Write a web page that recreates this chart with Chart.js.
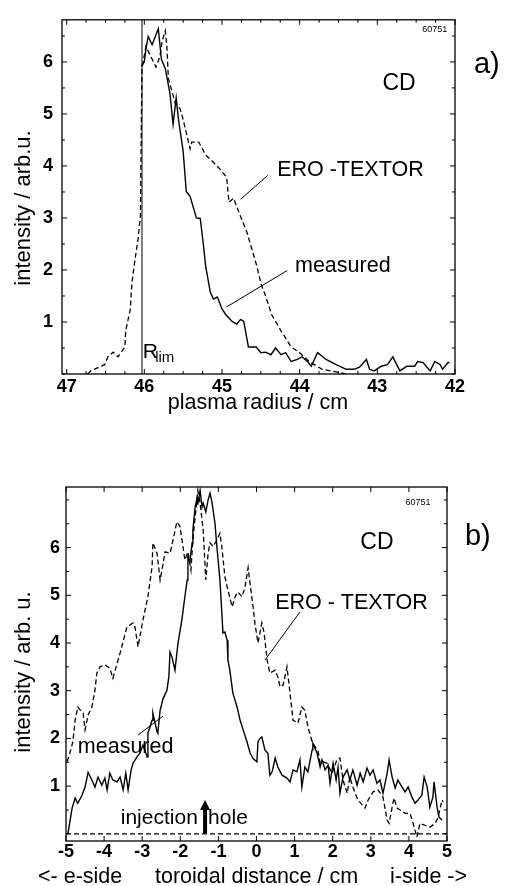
<!DOCTYPE html>
<html>
<head>
<meta charset="utf-8">
<script src="https://cdn.jsdelivr.net/npm/chart.js@4.4.0/dist/chart.umd.min.js"></script>
<style>
  body { margin: 0; background: #fff; }
  canvas { position: absolute; left: 0; }
  #chartA { top: 0; }
  #chartB { top: 430px; }
</style>
</head>
<body>
<canvas id="chartA" width="505" height="430"></canvas>
<canvas id="chartB" width="505" height="456"></canvas>
<script>
// ---- panel a) : plasma radius ----
const aTickX = [47, 46, 45, 44, 43, 42];
const aTickY = [1, 2, 3, 4, 5, 6];

const aMeasX = [46.04, 46.0, 45.98, 45.95, 45.90, 45.82, 45.78, 45.73, 45.67, 45.63, 45.59, 45.56, 45.50, 45.46, 45.41,
  45.33, 45.28, 45.24, 45.21, 45.15, 45.11, 45.06, 45.0, 44.95, 44.87, 44.81, 44.76, 44.72, 44.66, 44.56, 44.50, 44.44,
  44.37, 44.31, 44.24, 44.18, 44.11, 44.03, 43.97, 43.90, 43.85, 43.77, 43.66, 43.53, 43.40, 43.30, 43.23, 43.14, 43.10,
  43.04, 42.95, 42.87, 42.80, 42.71, 42.62, 42.52, 42.48, 42.41, 42.32, 42.26, 42.19, 42.16, 42.09, 42.07];
const aMeas = [5.92, 6.0, 6.24, 6.49, 6.33, 6.64, 6.05, 5.87, 5.39, 4.80, 5.31, 4.89, 4.28, 3.51, 3.41,
  3.0, 2.99, 2.49, 2.07, 1.57, 1.44, 1.48, 1.25, 1.14, 1.01, 0.96, 1.05, 1.01, 0.52, 0.52, 0.41, 0.42,
  0.37, 0.50, 0.37, 0.41, 0.24, 0.28, 0.33, 0.24, 0.15, 0.41, 0.28, 0.18, 0.09, 0.09, 0.13, 0.28, 0.09,
  0.06, 0.15, 0.18, 0.33, 0.06, 0.15, 0.15, 0.24, 0.22, 0.06, 0.24, 0.18, 0.09, 0.22, 0.22];

const aEroX = [46.73, 46.68, 46.51, 46.47, 46.40, 46.34, 46.25, 46.24, 46.18, 46.16, 46.12, 46.08, 46.05, 46.04, 46.03,
  45.98, 45.85, 45.80, 45.77, 45.73, 45.71, 45.69, 45.60, 45.54, 45.50, 45.41, 45.39, 45.30, 45.21, 45.13, 45.02, 44.94,
  44.91, 44.85, 44.78, 44.68, 44.56, 44.49, 44.44, 44.36, 44.24, 44.11, 44.0, 43.88, 43.71, 43.53, 43.40];
const aEro = [0, 0.07, 0.18, 0.33, 0.42, 0.33, 0.52, 0.83, 1.25, 1.75, 2.2, 2.6, 3.04, 4.58, 5.87,
  6.3, 5.9, 6.1, 6.4, 6.6, 6.3, 5.68, 5.2, 5.1, 4.89, 4.33, 4.46, 4.46, 4.21, 4.1, 3.93, 3.78,
  3.30, 3.38, 3.1, 2.73, 2.12, 1.7, 1.51, 1.14, 0.83, 0.52, 0.41, 0.24, 0.09, 0.04, 0];

const rLimX = [46.03, 46.03];
const rLimY = [0, 6.81];

// ---- panel b) : toroidal distance ----
const bTickX = [-5, -4, -3, -2, -1, 0, 1, 2, 3, 4, 5];
const bTickY = [1, 2, 3, 4, 5, 6];

const bMeasX = [-4.95, -4.84, -4.76, -4.69, -4.58, -4.50, -4.42, -4.32, -4.24, -4.16, -4.06, -3.98, -3.92, -3.85, -3.77,
  -3.66, -3.58, -3.50, -3.43, -3.37, -3.29, -3.24, -3.14, -3.06, -2.98, -2.87, -2.85, -2.74, -2.72, -2.61, -2.59, -2.53,
  -2.45, -2.35, -2.30, -2.27, -2.22, -2.14, -2.06, -1.96, -1.88, -1.82, -1.80, -1.75, -1.69, -1.67, -1.61, -1.56, -1.54,
  -1.48, -1.43, -1.40, -1.33, -1.27, -1.22, -1.17, -1.09, -1.04, -0.96, -0.91, -0.88, -0.83, -0.77, -0.75, -0.70, -0.62,
  -0.51, -0.43, -0.35, -0.25, -0.17, -0.09, 0.01, 0.04, 0.09, 0.14, 0.22, 0.30, 0.35, 0.41, 0.49, 0.56, 0.67, 0.80, 0.88,
  0.96, 1.06, 1.14, 1.19, 1.27, 1.35, 1.46, 1.48, 1.59, 1.67, 1.72, 1.80, 1.88, 1.93, 2.01, 2.09, 2.14, 2.19, 2.27, 2.38,
  2.45, 2.53, 2.64, 2.72, 2.80, 2.90, 2.98, 3.06, 3.16, 3.24, 3.32, 3.43, 3.48, 3.56, 3.64, 3.71, 3.82, 3.90, 3.98, 4.08,
  4.16, 4.24, 4.34, 4.40, 4.48, 4.55, 4.63, 4.66, 4.74, 4.79, 4.87];
const bMeas = [0.0, 0.54, 0.75, 0.64, 0.81, 0.98, 1.29, 1.13, 0.98, 1.19, 1.02, 1.17, 0.92, 1.27, 1.13,
  1.09, 1.19, 0.92, 1.27, 0.92, 1.34, 1.48, 1.61, 1.69, 1.86, 1.61, 2.11, 2.38, 2.53, 2.14, 2.11, 2.59,
  2.84, 3.01, 3.3, 3.81, 3.71, 3.43, 4.0, 4.48, 4.97, 5.32, 5.80, 5.70, 6.10, 6.37, 6.85, 7.04, 6.90,
  7.20, 6.85, 6.93, 6.75, 7.0, 7.14, 6.96, 6.51, 6.02, 5.32, 4.63, 4.21, 4.23, 4.06, 3.64, 3.43, 2.95,
  2.66, 2.38, 2.18, 1.93, 1.70, 1.58, 1.51, 1.93, 2.0, 2.03, 1.76, 1.69, 1.23, 1.30, 1.59, 1.40, 1.23, 1.17, 1.09,
  1.34, 1.30, 1.55, 0.98, 1.40, 1.30, 1.76, 1.90, 1.69, 1.40, 1.55, 1.34, 1.44, 1.06, 1.48, 1.13, 1.40, 0.85, 1.19, 1.34,
  1.13, 1.34, 1.02, 1.27, 1.09, 1.38, 1.23, 1.34, 1.06, 1.13, 0.85, 1.27, 1.55, 1.19, 0.96, 1.13, 0.98, 0.88, 0.98, 0.77,
  0.64, 0.71, 0.81, 1.19, 0.98, 0.56, 0.77, 1.09, 0.56, 0.35, 0.29];

const bEroX = [-4.97, -4.90, -4.82, -4.76, -4.69, -4.58, -4.55, -4.50, -4.42, -4.32, -4.24, -4.19, -4.11, -3.98, -3.90,
  -3.85, -3.77, -3.58, -3.40, -3.24, -3.19, -3.11, -2.98, -2.85, -2.74, -2.72, -2.61, -2.53, -2.45, -2.40, -2.27, -2.19,
  -2.09, -2.01, -1.93, -1.88, -1.80, -1.72, -1.67, -1.61, -1.56, -1.54, -1.48, -1.40, -1.33, -1.27, -1.22, -1.14, -1.04,
  -0.96, -0.91, -0.83, -0.75, -0.64, -0.56, -0.49, -0.38, -0.30, -0.22, -0.17, -0.09, -0.04, 0.04, 0.14, 0.20, 0.28, 0.35,
  0.49, 0.56, 0.62, 0.70, 0.80, 0.88, 0.96, 1.09, 1.19, 1.27, 1.35, 1.46, 1.54, 1.61, 1.67, 1.75, 1.85, 1.98, 2.11, 2.19,
  2.27, 2.38, 2.45, 2.53, 2.66, 2.85, 2.93, 3.06, 3.19, 3.32, 3.43, 3.48, 3.56, 3.61, 3.69, 3.77, 3.90, 4.03, 4.11, 4.21,
  4.29, 4.42, 4.55, 4.69, 4.76, 4.87, 4.90];
const bEro = [1.51, 1.69, 1.93, 2.38, 2.66, 2.55, 2.53, 2.18, 2.49, 2.66, 3.01, 3.37, 3.50, 3.54, 3.50,
  3.47, 3.26, 3.79, 4.34, 4.42, 4.34, 3.92, 4.48, 4.97, 5.60, 6.10, 5.88, 5.32, 5.67, 5.91, 5.88, 6.16,
  6.54, 6.44, 6.02, 5.74, 5.91, 5.53, 6.16, 6.65, 7.00, 7.20, 6.93, 6.37, 5.32, 5.88, 6.10, 6.02, 6.16,
  6.30, 6.02, 5.39, 5.11, 4.76, 4.97, 5.07, 4.97, 5.18, 5.58, 5.25, 4.76, 4.40, 4.00, 4.42, 4.21, 3.64, 3.37,
  3.43, 3.29, 3.08, 3.12, 3.50, 2.95, 2.38, 2.32, 2.66, 2.59, 2.24, 1.93, 1.82, 1.76, 1.48, 1.51, 1.48, 1.27, 1.55, 1.59,
  1.13, 0.85, 1.19, 0.98, 0.71, 0.54, 0.71, 0.88, 0.92, 0.77, 0.29, 0.22, 0.56, 0.75, 0.54, 0.50, 0.43, 0.43, 0.22, -0.07,
  0.22, 0.18, 0.14, 0.22, 0.33, 0.71, 0.67];

const bBaseX = [-5, 5];
const bBase = [0, 0];

const FONT = '"Liberation Sans", Arial, Helvetica, sans-serif';

function toPoints(xs, ys) {
  return xs.map((x, i) => ({ x: x, y: ys[i] }));
}

// inward ticks on all four sides
function tickMarks(scale, step, majors) {
  const out = [];
  const lo = Math.min(scale.min, scale.max);
  const hi = Math.max(scale.min, scale.max);
  for (let v = Math.ceil(lo / step) * step; v <= hi + 1e-9; v += step) {
    const isMajor = majors.some(m => Math.abs(m - v) < 1e-6);
    out.push({ px: scale.getPixelForValue(v), len: isMajor ? 5 : 3 });
  }
  return out;
}

const decorPlugin = {
  id: 'decor',
  afterDatasetsDraw(chart, args, opts) {
    const ctx = chart.ctx;
    const area = chart.chartArea;
    const sx = chart.scales.x;
    const sy = chart.scales.y;
    ctx.save();
    ctx.strokeStyle = '#000';
    ctx.fillStyle = '#000';

    ctx.lineWidth = 1.3;
    ctx.strokeRect(area.left, area.top, area.right - area.left, area.bottom - area.top);

    ctx.lineWidth = 1;
    ctx.beginPath();
    tickMarks(sx, opts.xStep, opts.xMajor).forEach(t => {
      ctx.moveTo(t.px, area.bottom); ctx.lineTo(t.px, area.bottom - t.len);
      ctx.moveTo(t.px, area.top); ctx.lineTo(t.px, area.top + t.len);
    });
    tickMarks(sy, opts.yStep, opts.yMajor).forEach(t => {
      ctx.moveTo(area.left, t.px); ctx.lineTo(area.left + t.len, t.px);
      ctx.moveTo(area.right, t.px); ctx.lineTo(area.right - t.len, t.px);
    });
    ctx.stroke();

    // pointer lines (data coordinates)
    ctx.lineWidth = 1;
    (opts.pointers || []).forEach(p => {
      ctx.beginPath();
      ctx.moveTo(sx.getPixelForValue(p[0]), sy.getPixelForValue(p[1]));
      ctx.lineTo(sx.getPixelForValue(p[2]), sy.getPixelForValue(p[3]));
      ctx.stroke();
    });

    // arrow for the injection hole
    if (opts.arrow) {
      const ax = sx.getPixelForValue(opts.arrow.x);
      const y0 = sy.getPixelForValue(opts.arrow.y0);
      const y1 = sy.getPixelForValue(opts.arrow.y1);
      ctx.fillRect(ax - 2, y1 + 8, 4, y0 - y1 - 8);
      ctx.beginPath();
      ctx.moveTo(ax, y1);
      ctx.lineTo(ax - 5, y1 + 10);
      ctx.lineTo(ax + 5, y1 + 10);
      ctx.closePath();
      ctx.fill();
    }

    // labels in data coordinates
    (opts.labels || []).forEach(l => {
      ctx.font = (l.weight || 'normal') + ' ' + l.size + 'px ' + FONT;
      ctx.textAlign = l.align || 'left';
      ctx.textBaseline = l.baseline || 'middle';
      ctx.fillText(l.text, sx.getPixelForValue(l.x), sy.getPixelForValue(l.y));
    });

    // axis titles in canvas pixels
    (opts.titles || []).forEach(t => {
      ctx.save();
      ctx.font = t.size + 'px ' + FONT;
      ctx.textAlign = t.align || 'center';
      ctx.textBaseline = 'middle';
      ctx.translate(t.px, t.py);
      if (t.rotate) ctx.rotate(-Math.PI / 2);
      ctx.fillText(t.text, 0, 0);
      ctx.restore();
    });
    ctx.restore();
  }
};

function axisX(min, max, reverse, ticks, height, pad) {
  return {
    type: 'linear', min: min, max: max, reverse: reverse,
    grid: { display: false, drawTicks: false }, border: { display: false },
    ticks: { color: '#000', padding: pad, maxRotation: 0, autoSkip: false,
      font: { family: FONT, size: 18, weight: 'bold' }, callback: v => String(v) },
    afterBuildTicks: s => { s.ticks = ticks.map(v => ({ value: v })); },
    afterFit: s => { s.height = height; }
  };
}

function axisY(min, max, ticks, width, pad) {
  return {
    type: 'linear', min: min, max: max,
    grid: { display: false, drawTicks: false }, border: { display: false },
    ticks: { color: '#000', padding: pad,
      font: { family: FONT, size: 18, weight: 'bold' }, callback: v => String(v) },
    afterBuildTicks: s => { s.ticks = ticks.map(v => ({ value: v })); },
    afterFit: s => { s.width = width; }
  };
}

function lineSet(points, dashed, width) {
  return {
    data: points, borderColor: '#000', borderWidth: width,
    borderDash: dashed ? [5, 3] : [], pointRadius: 0, tension: 0, fill: false
  };
}

// panel a
new Chart(document.getElementById('chartA'), {
  type: 'line',
  data: {
    datasets: [
      lineSet(toPoints(rLimX, rLimY), false, 1),
      lineSet(toPoints(aEroX, aEro), true, 1.3),
      lineSet(toPoints(aMeasX, aMeas), false, 1.4)
    ]
  },
  options: {
    responsive: false, animation: false, devicePixelRatio: 1,
    layout: { padding: { left: 0, top: 6, right: 50, bottom: 0 } },
    plugins: {
      legend: { display: false }, tooltip: { enabled: false },
      decor: {
        xStep: 0.25, xMajor: aTickX, yStep: 0.5, yMajor: aTickY,
        pointers: [[44.41, 3.82, 44.76, 3.36], [44.16, 1.99, 44.94, 1.29]],
        labels: [
          { text: 'CD', x: 42.72, y: 5.59, size: 23, align: 'center' },
          { text: 'a)', x: 41.59, y: 5.94, size: 29, align: 'center' },
          { text: '60751', x: 42.26, y: 6.62, size: 9, align: 'center' },
          { text: 'ERO -TEXTOR', x: 44.29, y: 3.93, size: 21.5 },
          { text: 'measured', x: 44.06, y: 2.07, size: 21.5 },
          { text: 'R', x: 46.02, y: 0.31, size: 21, baseline: 'alphabetic' },
          { text: 'lim', x: 45.86, y: 0.24, size: 15, baseline: 'alphabetic' }
        ],
        titles: [
          { text: 'intensity / arb.u.', px: 24, py: 208, size: 22, rotate: true },
          { text: 'plasma radius / cm', px: 258, py: 403, size: 21.5 }
        ]
      }
    },
    scales: {
      x: axisX(42, 47.06, true, aTickX, 56, 2),
      y: axisY(0, 6.81, aTickY, 62, 9)
    }
  },
  plugins: [decorPlugin]
});

// panel b
new Chart(document.getElementById('chartB'), {
  type: 'line',
  data: {
    datasets: [
      lineSet(toPoints(bBaseX, bBase), true, 1.2),
      lineSet(toPoints(bEroX, bEro), true, 1.3),
      lineSet(toPoints(bMeasX, bMeas), false, 1.4)
    ]
  },
  options: {
    responsive: false, animation: false, devicePixelRatio: 1,
    layout: { padding: { left: 0, top: 57, right: 58, bottom: 0 } },
    plugins: {
      legend: { display: false }, tooltip: { enabled: false },
      decor: {
        xStep: 1, xMajor: bTickX, yStep: 0.5, yMajor: bTickY,
        pointers: [[1.14, 4.65, 0.22, 3.64], [-3.11, 2.07, -2.45, 2.47]],
        arrow: { x: -1.35, y0: 0.01, y1: 0.71 },
        labels: [
          { text: 'CD', x: 3.16, y: 6.10, size: 23, align: 'center' },
          { text: 'b)', x: 5.81, y: 6.22, size: 29, align: 'center' },
          { text: '60751', x: 4.24, y: 6.94, size: 9, align: 'center' },
          { text: 'ERO - TEXTOR', x: 0.49, y: 4.84, size: 21.5 },
          { text: 'measured', x: -4.69, y: 1.82, size: 21.5 },
          { text: 'injection', x: -1.54, y: 0.33, size: 21, align: 'right' },
          { text: 'hole', x: -1.27, y: 0.33, size: 21 }
        ],
        titles: [
          { text: 'intensity / arb. u.', px: 24, py: 242, size: 22, rotate: true },
          { text: '<- e-side', px: 38, py: 447, size: 21.5, align: 'left' },
          { text: 'toroidal distance / cm', px: 155, py: 447, size: 21.5, align: 'left' },
          { text: 'i-side ->', px: 390, py: 447, size: 21.5, align: 'left' }
        ]
      }
    },
    scales: {
      x: axisX(-5, 5, false, bTickX, 45, 0),
      y: axisY(-0.15, 7.27, bTickY, 66, 6)
    }
  },
  plugins: [decorPlugin]
});
</script>
</body>
</html>
